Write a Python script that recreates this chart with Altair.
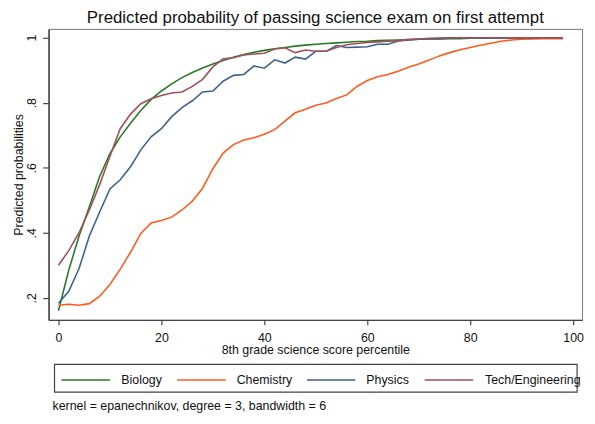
import altair as alt
import pandas as pd

# ---- data ----
x_pct = list(range(0, 100, 2))

biology = [0.160, 0.285, 0.390, 0.480, 0.573, 0.643, 0.695, 0.737, 0.776, 0.810,
           0.836, 0.858, 0.877, 0.893, 0.907, 0.919, 0.930, 0.940, 0.948, 0.955,
           0.961, 0.966, 0.970, 0.974, 0.977, 0.980, 0.982, 0.984, 0.986, 0.988,
           0.989, 0.991, 0.992, 0.993, 0.994, 0.995, 0.996, 0.996, 0.997, 0.997,
           0.998, 0.998, 0.998, 0.999, 0.999, 0.999, 0.999, 0.999, 1.000, 1.000]

chemistry = [0.177, 0.180, 0.177, 0.182, 0.205, 0.241, 0.288, 0.340, 0.398, 0.430,
             0.438, 0.448, 0.470, 0.497, 0.537, 0.597, 0.645, 0.671, 0.685, 0.692,
             0.703, 0.717, 0.743, 0.769, 0.780, 0.792, 0.799, 0.813, 0.824, 0.850,
             0.868, 0.880, 0.887, 0.897, 0.909, 0.919, 0.931, 0.944, 0.954, 0.963,
             0.970, 0.977, 0.983, 0.989, 0.993, 0.995, 0.996, 0.997, 0.997, 0.997]

physics = [0.183, 0.220, 0.290, 0.390, 0.464, 0.535, 0.563, 0.603, 0.655, 0.695,
           0.720, 0.757, 0.785, 0.806, 0.833, 0.836, 0.866, 0.884, 0.887, 0.913,
           0.906, 0.932, 0.922, 0.940, 0.934, 0.958, 0.958, 0.976, 0.970, 0.971,
           0.972, 0.980, 0.980, 0.990, 0.993, 0.995, 0.996, 0.997, 0.998, 0.999,
           1.000, 1.000, 1.000, 1.000, 1.000, 1.000, 1.000, 1.000, 1.000, 1.000]

tech = [0.300, 0.345, 0.400, 0.470, 0.548, 0.635, 0.720, 0.765, 0.797, 0.812,
        0.822, 0.830, 0.833, 0.850, 0.872, 0.910, 0.935, 0.938, 0.947, 0.950,
        0.952, 0.965, 0.969, 0.954, 0.962, 0.958, 0.958, 0.970, 0.978, 0.982,
        0.985, 0.987, 0.989, 0.991, 0.994, 0.996, 0.998, 0.999, 1.000, 1.000,
        1.000, 1.000, 1.000, 1.000, 1.000, 1.000, 1.000, 1.000, 1.000, 1.000]

series_names = ["Biology", "Chemistry", "Physics", "Tech/Engineering"]
series_colors = ["#287a28", "#ff5a1e", "#3c6390", "#a34f5a"]

x_ticks = [0, 20, 40, 60, 80, 100]
y_ticks = [0.2, 0.4, 0.6, 0.8, 1.0]

title_text = "Predicted probability of passing science exam on first attempt"
x_title = "8th grade science score percentile"
y_title = "Predicted probabilities"
note_text = "kernel = epanechnikov, degree = 3, bandwidth = 6"

# ---- table ----
rows = []
for name, vals in zip(series_names, [biology, chemistry, physics, tech]):
    for xv, yv in zip(x_pct, vals):
        rows.append({"pct": xv, "prob": yv, "series": name})
df = pd.DataFrame(rows)

FONT = "Liberation Sans"
FS = 12.5
W, H = 539, 294
dummy = pd.DataFrame({"a": [0]})

lines = alt.Chart(df).mark_line(strokeWidth=1.6).encode(
    x=alt.X("pct:Q",
            scale=alt.Scale(domain=[-1.92, 101.73], nice=False, zero=False),
            axis=alt.Axis(values=x_ticks, title=x_title, tickSize=5,
                          labelPadding=17, labelBaseline="alphabetic",
                          labelFlush=False, titleBaseline="alphabetic",
                          titleY=33.5, titleX=W / 2, titleAlign="center")),
    y=alt.Y("prob:Q",
            scale=alt.Scale(domain=[0.132, 1.027], nice=False, zero=False),
            axis=alt.Axis(values=y_ticks, title=y_title, tickSize=6,
                          labelAngle=270, labelAlign="center",
                          labelBaseline="alphabetic", labelPadding=7,
                          labelExpr="datum.value >= 0.999 ? '1' : replace(format(datum.value, '.1f'), '0.', '.')",
                          titleAngle=270, titleX=-26.5, titleY=H / 2,
                          titleAlign="center", titleBaseline="alphabetic")),
    color=alt.Color("series:N",
                    scale=alt.Scale(domain=series_names, range=series_colors),
                    legend=None),
)

layers = [lines]

# chart title as a text mark above the plot area
layers.append(
    alt.Chart(dummy).mark_text(align="center", baseline="alphabetic", font=FONT,
                               fontSize=17, color="#111").encode(
        x=alt.value(W / 2), y=alt.value(-6.3), text=alt.value(title_text))
)

# legend box
layers.append(
    alt.Chart(dummy).mark_rect(fill="white", stroke="#444", strokeWidth=1.2).encode(
        x=alt.value(6), x2=alt.value(534), y=alt.value(339), y2=alt.value(367))
)
legend_line_x = [13, 130, 261, 380]
legend_text_x = [73.5, 190, 321, 441]
for name, col, lx, tx in zip(series_names, series_colors, legend_line_x, legend_text_x):
    layers.append(
        alt.Chart(dummy).mark_rule(strokeWidth=1.6).encode(
            x=alt.value(lx), x2=alt.value(lx + 49), y=alt.value(354.7),
            color=alt.value(col))
    )
    layers.append(
        alt.Chart(dummy).mark_text(align="left", baseline="alphabetic", font=FONT,
                                   fontSize=FS, color="#111").encode(
            x=alt.value(tx), y=alt.value(359), text=alt.value(name))
    )
layers.append(
    alt.Chart(dummy).mark_text(align="left", baseline="alphabetic", font=FONT,
                               fontSize=FS, color="#111").encode(
        x=alt.value(4), y=alt.value(385.5), text=alt.value(note_text))
)

chart = alt.layer(*layers).properties(
    width=W, height=H,
    autosize="none",
    padding={"left": 41, "top": 19, "right": 5, "bottom": 95},
    background="white",
).configure_view(
    stroke="#777", strokeWidth=1
).configure_axis(
    grid=False, domainColor="#444", domainWidth=1.5, tickColor="#444",
    tickWidth=1.2, labelFont=FONT, titleFont=FONT, labelFontSize=FS,
    titleFontSize=FS, labelColor="#111", titleColor="#111",
    titleFontWeight="normal"
)

chart.save("out.html", embed_options={"renderer": "svg", "actions": False})
